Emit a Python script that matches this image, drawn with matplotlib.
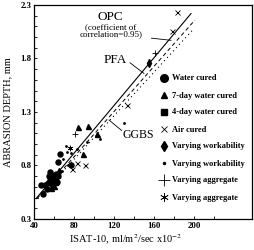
import matplotlib
matplotlib.use("Agg")
import matplotlib.pyplot as plt
from matplotlib.lines import Line2D

plt.rcParams['font.family'] = ['Liberation Serif', 'DejaVu Serif']
plt.rcParams['mathtext.fontset'] = 'stix'

# ---- data ----
water_x = [47, 49.3, 52.7, 53.7, 55, 56, 57.7, 57.7, 58.5, 59.3, 60, 61, 61.7, 62.5, 63.5, 64.3, 63.7, 66, 51, 56.5, 77]
water_y = [0.62, 0.53, 0.58, 0.64, 0.70, 0.66, 0.71, 0.63, 0.68, 0.655, 0.70, 0.67, 0.72, 0.69, 0.65, 0.70, 0.83, 0.91, 0.62, 0.74, 0.80]
day7_x = [84.3, 94.3, 102.7, 88.7, 60, 61.5, 57]
day7_y = [1.16, 1.17, 1.09, 0.91, 0.61, 0.68, 0.59]
day4_x = [58.5, 62.5]
day4_y = [0.66, 0.64]
air_x = [183, 178, 133, 91, 78.3, 82.7]
air_y = [2.23, 2.06, 1.37, 0.80, 0.77, 0.82]
workd_x = [155.3, 65]
workd_y = [1.755, 0.74]
workp_x = [130, 72.7, 77, 74.3, 106, 93, 72, 83, 68, 69]
workp_y = [1.20, 0.93, 0.92, 0.80, 1.05, 1.02, 0.98, 0.95, 0.75, 0.86]
aggp_x = [81, 161]
aggp_y = [1.09, 1.85]
aggs_x = [76]
aggs_y = [0.96]

opc_x = [42, 197]
opc_y = [0.49, 2.22]
pfa_x = [43, 201]
pfa_y = [0.49, 2.16]
ggbs_x = [44, 198]
ggbs_y = [0.49, 2.06]

x_ticks = [40, 80, 120, 160, 200]
y_ticks = [0.3, 0.8, 1.3, 1.8, 2.3]

legend_labels = ["Water cured", "7-day water cured", "4-day water cured", "Air cured",
                 "Varying workability", "Varying workability",
                 "Varying aggregate", "Varying aggregate"]

fig = plt.figure(figsize=(2.55, 2.5), dpi=100)
ax = fig.add_axes([34/255, 1-219/250, 218/255, 214/250])
ax.set_xlim(40, 258)
ax.set_ylim(0.3, 2.3)

# regression lines
ax.plot(opc_x, opc_y, color='black', lw=0.8, ls='-')
ax.plot(pfa_x, pfa_y, color='black', lw=0.7, ls=(0, (4, 3)))
ax.plot(ggbs_x, ggbs_y, color='black', lw=0.8, ls=(0, (1, 3)))

k = dict(color='black', ls='none')
ax.plot(water_x, water_y, marker='o', ms=3.6, **k)
ax.plot(day7_x, day7_y, marker='^', ms=3.6, **k)
ax.plot(day4_x, day4_y, marker='s', ms=2.8, **k)
ax.plot(air_x, air_y, marker='x', ms=3.6, mew=0.6, **k)
ax.plot(workd_x, workd_y, marker='d', ms=3.6, **k)
ax.plot(workp_x, workp_y, marker='.', ms=2.0, **k)
ax.plot(aggp_x, aggp_y, marker='+', ms=5, mew=0.6, **k)
ax.plot(aggs_x, aggs_y, marker=(6, 2, 0), ms=4, mew=0.5, **k)

# annotations
ax.text(116, 2.19, "OPC", fontsize=9.5, ha='center', va='center')
ax.text(117, 2.06, "(coefficient of\ncorrelation=0.95)", fontsize=6.5, ha='center', va='center',
        linespacing=0.95)
ax.plot([157.5, 177], [1.99, 1.97], color='black', lw=0.6)
ax.text(121, 1.79, "PFA", fontsize=9.5, ha='center', va='center')
ax.plot([136, 150], [1.76, 1.66], color='black', lw=0.6)
ax.text(128.5, 1.085, "GGBS", fontsize=8.5, ha='left', va='center')
ax.plot([127.7, 115], [1.127, 1.225], color='black', lw=0.6)

# axes styling
ax.set_xticks(x_ticks)
ax.set_xticks(list(range(60, 260, 40)), minor=True)
ax.set_yticks(y_ticks)
ax.set_yticks([0.4 + 0.1*i for i in range(19) if (i+1) % 5 != 0], minor=True)
ax.set_xticklabels([str(t) for t in x_ticks], fontsize=6.3, fontweight='bold')
ax.set_yticklabels([f"{t:.1f}" for t in y_ticks], fontsize=6.3, fontweight='bold')
ax.tick_params(which='both', direction='in', length=2.5, width=0.6, pad=2)
for s in ax.spines.values():
    s.set_linewidth(0.9)

ax.set_xlabel(r"ISAT-10, ml/m$^{2}$/sec x10$^{-2}$", fontsize=7.5)
ax.xaxis.set_label_coords(0.42, -0.065)
ax.set_ylabel("ABRASION DEPTH, mm", fontsize=7.5)
ax.yaxis.set_label_coords(-0.10, 0.5)

handles = [
    Line2D([], [], marker='o', ms=5.5, **k),
    Line2D([], [], marker='^', ms=5, **k),
    Line2D([], [], marker='s', ms=3.8, **k),
    Line2D([], [], marker='x', ms=5, mew=0.6, **k),
    Line2D([], [], marker='d', ms=5, **k),
    Line2D([], [], marker='.', ms=3, **k),
    Line2D([], [], marker='+', ms=8, mew=0.6, **k),
    Line2D([], [], marker=(6, 2, 0), ms=6, mew=0.5, **k),
]
fig.legend(handles, legend_labels, loc='upper left', bbox_to_anchor=(0.628, 0.702),
           frameon=False, prop={'weight': 'bold', 'size': 6},
           handlelength=1.0, handletextpad=0.4, labelspacing=1.08,
           borderpad=0, borderaxespad=0)

fig.savefig("out.png", dpi=100)
